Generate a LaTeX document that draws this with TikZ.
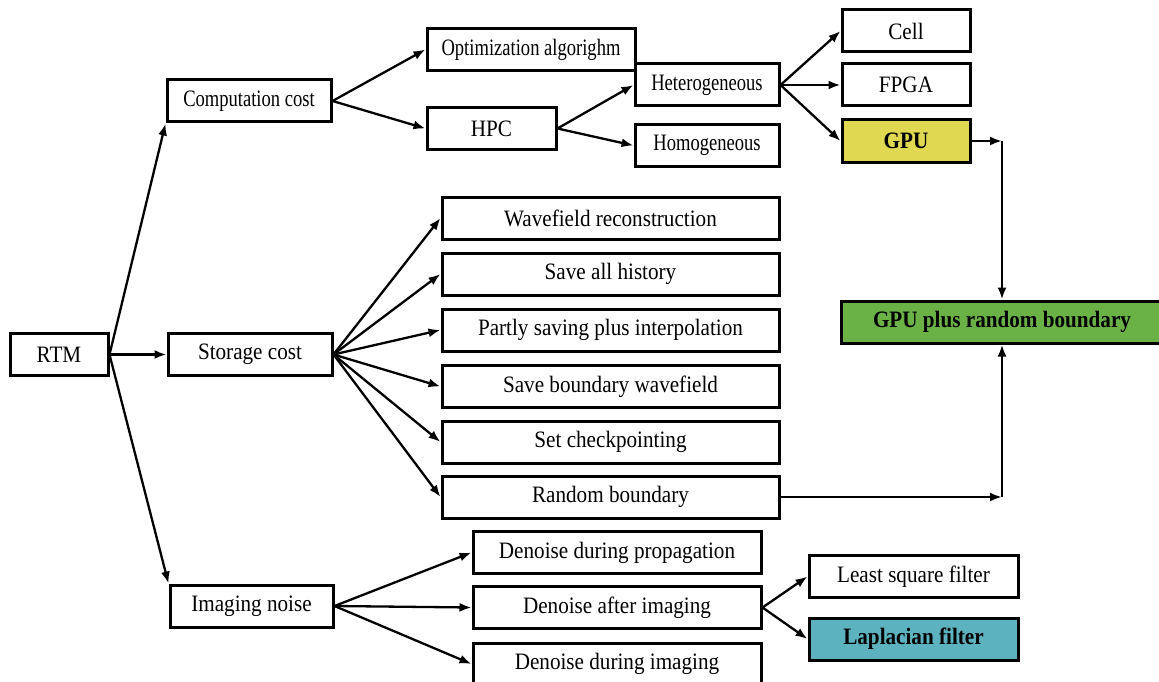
\documentclass[tikz,border=0pt]{standalone}
\usepackage{fontspec}
\setmainfont[FakeStretch=0.9]{Liberation Serif}
\newfontfamily\narrowfont[FakeStretch=0.79]{Liberation Serif}
\usetikzlibrary{arrows.meta}

\definecolor{gpuyellow}{RGB}{224,216,80}
\definecolor{boundgreen}{RGB}{106,178,70}
\definecolor{lapteal}{RGB}{92,178,190}

\tikzset{
  box/.style={draw, line width=3pt, minimum height=42pt, inner sep=0pt,
              font=\fontsize{23.5}{27}\selectfont},
  smallbox/.style={box, font=\narrowfont\fontsize{23.5}{27}\selectfont},
  boldbox/.style={box, font=\fontsize{23.5}{27}\selectfont\bfseries},
  arr/.style={-{Latex[length=12pt,width=9pt]}, line width=2.3pt},
}

\begin{document}
\begin{tikzpicture}[x=1pt, y=-1pt]
      \useasboundingbox (0,0) rectangle (1159,682);
      %
      \node[box, minimum width=98pt] (rtm) at (59,354.5) {RTM};                 % root
      %
      \node[smallbox, minimum width=164pt] (comp) at (249,101) {Computation cost}; % first level
      \node[box, minimum width=164pt] (stor) at (250,354.5) {Storage cost};
      \node[box, minimum width=163pt] (imag) at (251.5,606) {Imaging noise};
      %%
      \node[smallbox, minimum width=208pt] (opt) at (531,49.5) {Optimization algorighm}; % computation
      \node[box, minimum width=129pt] (hpc) at (491.5,128.5) {HPC};
      \node[smallbox, minimum width=144pt] (hetero) at (707,85) {Heterogeneous};
      \node[smallbox, minimum width=144pt] (homo) at (707,145.5) {Homogeneous};
      \node[box, minimum width=128pt] (cell) at (906,31) {Cell};
      \node[box, minimum width=128pt] (fpga) at (906,85) {FPGA};
      \node[boldbox, minimum width=128pt, fill=gpuyellow] (gpu) at (906,141) {GPU};
      %%
      \node[box, minimum width=337pt] (wave) at (610.5,218) {Wavefield reconstruction}; % storage
      \node[box, minimum width=337pt] (hist) at (610.5,274) {Save all history};
      \node[box, minimum width=337pt] (part) at (610.5,330) {Partly saving plus interpolation};
      \node[box, minimum width=337pt] (bwave) at (610.5,386.5) {Save boundary wavefield};
      \node[box, minimum width=337pt] (check) at (610.5,442) {Set checkpointing};
      \node[box, minimum width=337pt] (rand) at (610.5,497) {Random boundary};
      %
      \node[boldbox, minimum width=322pt, fill=boundgreen] (green) at (1002,322) {GPU plus random boundary};
      %%
      \node[box, minimum width=288pt] (dprop) at (617,552.5) {Denoise during propagation}; % noise
      \node[box, minimum width=288pt] (dafter) at (617,607.5) {Denoise after imaging};
      \node[box, minimum width=288pt] (dimg) at (617,664) {Denoise during imaging};
      \node[box, minimum width=209pt] (lsq) at (913.5,576.5) {Least square filter};
      \node[boldbox, minimum width=209pt, fill=lapteal] (lap) at (913.5,639) {Laplacian filter};
      %
      \draw[arr] (rtm.east) -- (comp.south west);   % from root
      \draw[arr] (rtm.east) -- (stor.west);
      \draw[arr] (rtm.east) -- (imag.north west);
      %
      \draw[arr] (comp.east) -- (opt.west);         % computation
      \draw[arr] (comp.east) -- (hpc.west);
      \draw[arr] (hpc.east) -- (hetero.west);
      \draw[arr] (hpc.east) -- (homo.west);
      \draw[arr] (hetero.east) -- (cell.west);
      \draw[arr] (hetero.east) -- (fpga.west);
      \draw[arr] (hetero.east) -- (gpu.west);
      %
      \foreach \n in {wave,hist,part,bwave,check,rand}  % storage
        \draw[arr] (stor.east) -- (\n.west);
      %
      \coordinate (gcorner) at (gpu.east -| green.north);
      \coordinate (rcorner) at (rand.east -| green.south);
      \draw[arr] (gpu.east) -- (gcorner);
      \draw[arr] (gcorner) -- (green.north);
      \draw[arr] (rand.east) -- (rcorner);
      \draw[arr] (rcorner) -- (green.south);
      %
      \foreach \n in {dprop,dafter,dimg}           % noise
        \draw[arr] (imag.east) -- (\n.west);
      \draw[arr] (dafter.east) -- (lsq.west);
      \draw[arr] (dafter.east) -- (lap.west);
      %
    \end{tikzpicture}
\end{document}
